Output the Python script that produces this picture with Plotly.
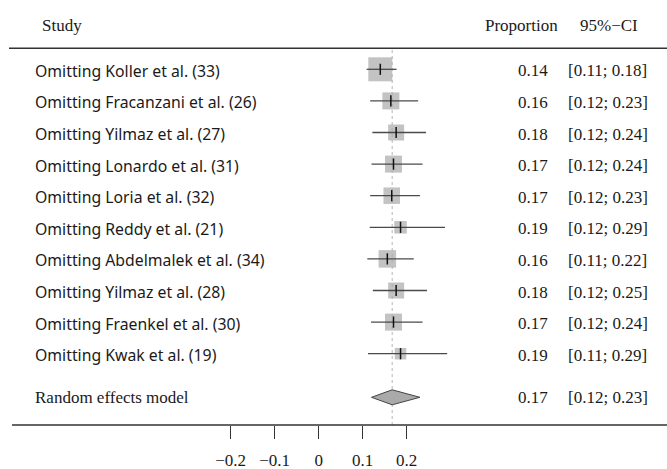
import plotly.graph_objects as go

# ---- data ----
studies = [
    "Omitting Koller et al. (33)",
    "Omitting Fracanzani et al. (26)",
    "Omitting Yilmaz et al. (27)",
    "Omitting Lonardo et al. (31)",
    "Omitting Loria et al. (32)",
    "Omitting Reddy et al. (21)",
    "Omitting Abdelmalek et al. (34)",
    "Omitting Yilmaz et al. (28)",
    "Omitting Fraenkel et al. (30)",
    "Omitting Kwak et al. (19)",
]
est = [0.140, 0.164, 0.176, 0.170, 0.166, 0.186, 0.156, 0.176, 0.170, 0.186]
lower = [0.109, 0.117, 0.122, 0.120, 0.117, 0.116, 0.1105, 0.123, 0.119, 0.112]
upper = [0.177, 0.226, 0.244, 0.236, 0.230, 0.287, 0.216, 0.246, 0.236, 0.292]
weight_px = [24, 17, 16, 17, 16.5, 12.5, 17.5, 16, 17, 11.5]
pooled_label = "Random effects model"
pooled_est, pooled_lo, pooled_hi = 0.167, 0.120, 0.230
tick_vals = [-0.2, -0.1, 0, 0.1, 0.2]

# ---- layout helpers ----
W, H = 667, 469
PLOT_BOTTOM = 425
ROW0, ROWSTEP = 69.3, 31.6
POOLED_POS = 1 + (397.3 - ROW0) / ROWSTEP
X0PX, XSCALE = 318.7, 440.0

def ypaper(px):
    return (PLOT_BOTTOM - px) / PLOT_BOTTOM

def xpaper(px):
    return px / W

rows = list(range(1, len(studies) + 1))
y_top = 1 - ROW0 / ROWSTEP
y_bot = 1 + (PLOT_BOTTOM - ROW0) / ROWSTEP

fig = go.Figure()

# boxes
fig.add_trace(go.Scatter(
    x=est, y=rows, mode="markers",
    marker=dict(symbol="square", size=weight_px, color="#aaaaaa", line=dict(width=0)),
    hoverinfo="skip", showlegend=False))

# CI lines
cx, cy = [], []
for lo, hi, r in zip(lower, upper, rows):
    cx += [lo, hi, None]
    cy += [r, r, None]
fig.add_trace(go.Scatter(x=cx, y=cy, mode="lines",
                         line=dict(color="#4a4a4a", width=1.3),
                         hoverinfo="skip", showlegend=False))

# center ticks
fig.add_trace(go.Scatter(
    x=est, y=rows, mode="markers",
    marker=dict(symbol="line-ns", size=8, line=dict(color="#111111", width=1.5)),
    hoverinfo="skip", showlegend=False))

# diamond
hh = 7.5 / ROWSTEP
fig.add_trace(go.Scatter(
    x=[pooled_lo, pooled_est, pooled_hi, pooled_est, pooled_lo],
    y=[POOLED_POS, POOLED_POS - hh, POOLED_POS, POOLED_POS + hh, POOLED_POS],
    mode="lines", fill="toself", fillcolor="#aaaaaa",
    line=dict(color="#444444", width=1),
    hoverinfo="skip", showlegend=False))

shapes = [
    # dotted line at pooled estimate
    dict(type="line", xref="x", yref="paper", x0=pooled_est, x1=pooled_est,
         y0=0, y1=ypaper(49.5), line=dict(color="#b5b5b5", width=1, dash="dot"), layer="below"),
    # header line
    dict(type="line", xref="paper", yref="paper", x0=xpaper(9), x1=1,
         y0=ypaper(48.3), y1=ypaper(48.3), line=dict(color="#333333", width=1.6)),
    # axis line
    dict(type="line", xref="paper", yref="paper", x0=xpaper(12), x1=1,
         y0=0, y1=0, line=dict(color="#333333", width=1.6)),
]

serif = "Liberation Serif"
sans = "Noto Sans"
ann = []
def text(s, xpx, y, yref="y", font=serif, size=17, anchor="left"):
    ann.append(dict(text=s, x=xpaper(xpx), xref="paper", y=y, yref=yref,
                    xanchor=anchor, yanchor="middle", showarrow=False,
                    font=dict(family=font, size=size, color="#1a1a1a")))

# headers
text("Study", 40, ypaper(25), yref="paper")
text("Proportion", 483, ypaper(25), yref="paper")
text("95%−CI", 578, ypaper(25), yref="paper")

for s, e, lo, hi, r in zip(studies, est, lower, upper, rows):
    text(s, 33, r + 0.05, font=sans, size=15.8)
    text(f"{e:.2f}", 516, r + 0.05)
    text(f"[{lo:.2f}; {hi:.2f}]", 566, r + 0.05)

text(pooled_label, 33, POOLED_POS)
text(f"{pooled_est:.2f}", 516, POOLED_POS)
text(f"[{pooled_lo:.2f}; {pooled_hi:.2f}]", 566, POOLED_POS)

fig.update_layout(
    width=W, height=H,
    margin=dict(l=0, r=0, t=0, b=H - PLOT_BOTTOM),
    paper_bgcolor="white", plot_bgcolor="white",
    shapes=shapes, annotations=ann, showlegend=False,
    xaxis=dict(range=[(0 - X0PX) / XSCALE, (W - X0PX) / XSCALE],
               tickvals=tick_vals, ticktext=["−0.2", "−0.1", "0", "0.1", "0.2"],
               ticks="outside", ticklen=13, tickwidth=1.3, tickcolor="#333333",
               showline=False, showgrid=False, zeroline=False,
               tickfont=dict(family=serif, size=17, color="#1a1a1a"),
               ticklabelstandoff=7, fixedrange=True, automargin=False),
    yaxis=dict(range=[y_bot, y_top], visible=False, fixedrange=True),
)

fig.write_html("out.html", config={"displayModeBar": False},
               post_script="document.body.style.margin='0';document.body.style.overflow='hidden';")
